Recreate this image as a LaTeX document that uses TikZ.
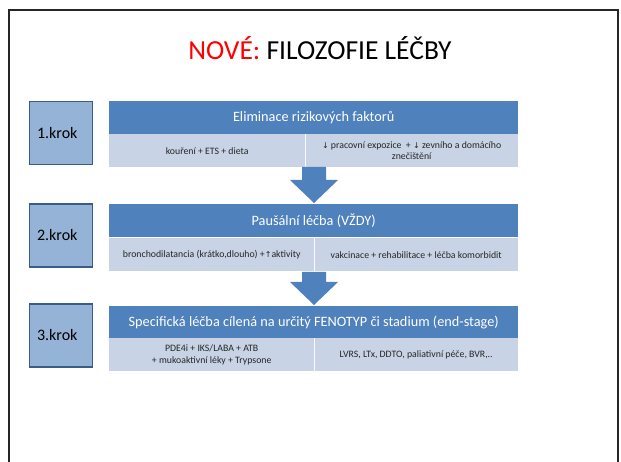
\documentclass[tikz,border=0pt]{standalone}
\usepackage{fontspec}
\setmainfont{Carlito}
\newfontfamily\symfont{DejaVu Sans}
\definecolor{hdrblue}{HTML}{4F81BD}
\definecolor{cellblue}{HTML}{C8D3E6}
\definecolor{stepfill}{HTML}{95B3D7}
\definecolor{stepedge}{HTML}{385D8A}
\definecolor{titlered}{HTML}{FF0000}
\newcommand{\dn}{{\symfont\fontsize{8}{9}\selectfont ↓}}
\newcommand{\up}{{\symfont\fontsize{8}{9}\selectfont ↑}}
\tikzset{
  stepbox/.style={draw=stepedge, line width=1.2pt, fill=stepfill, minimum width=63pt, minimum height=63pt, inner sep=0pt, text width=48pt, align=left, font=\fontsize{16}{18}\selectfont},
  hdr/.style={fill=hdrblue, minimum width=409pt, minimum height=33pt, inner sep=0pt, text=white, font=\fontsize{14.3}{16}\selectfont},
  cell/.style={fill=cellblue, minimum height=33pt, inner sep=0pt, align=center, font=\fontsize{9.8}{11.5}\selectfont, text=black!85},
  divider/.style={draw=white!92!cellblue, line width=1pt},
  downarrow/.style={fill=hdrblue, draw=none}
}
\begin{document}
\begin{tikzpicture}[x=1pt, y=-1pt]
\useasboundingbox (0,0) rectangle (621,462);
\fill[white] (0,0) rectangle (621,462);
% slide frame
\draw[black!85, line width=2.2pt] (9,470) -- (9,10) -- (618,10) -- (618,470);

% title
\node (title) at (320,48) {\fontsize{27.5}{30}\selectfont\textcolor{titlered}{NOVÉ:} FILOZOFIE LÉČBY};

% step labels
\node[stepbox] (k1) at (61,133) {1.krok};
\node[stepbox] (k2) at (61,235.5) {2.krok};
\node[stepbox] (k3) at (61,335.5) {3.krok};

% step 1
\node[hdr, anchor=north west] (h1) at (109,101) {Eliminace rizikových faktorů};
\node[cell, anchor=north west, minimum width=196pt] (c1a) at (109,134) {kouření + ETS + dieta};
\node[cell, anchor=north west, minimum width=213pt] (c1b) at (305,134) {\dn\ pracovní expozice \ + \dn\ zevního a domácího\\znečištění};
\draw[divider] (c1a.north east) -- (c1a.south east);

% step 2
\node[hdr, anchor=north west] (h2) at (109,204) {Paušální léčba (VŽDY)};
\node[cell, anchor=north west, minimum width=205pt] (c2a) at (109,238) {bronchodilatancia (krátko,dlouho) +\up aktivity};
\node[cell, anchor=north west, minimum width=204pt] (c2b) at (314,238) {vakcinace + rehabilitace + léčba komorbidit};
\draw[divider] (c2a.north east) -- (c2a.south east);

% step 3
\node[hdr, anchor=north west] (h3) at (109,306) {Specifická léčba cílená na určitý FENOTYP či stadium (end-stage)};
\node[cell, anchor=north west, minimum width=205pt] (c3a) at (109,338) {PDE4i + IKS/LABA + ATB\\+ mukoaktivní léky + Trypsone};
\node[cell, anchor=north west, minimum width=204pt] (c3b) at (314,338) {LVRS, LTx, DDTO, paliativní péče, BVR,..};
\draw[divider] (c3a.north east) -- (c3a.south east);

% block arrows between steps
\coordinate (a1b) at (314,203);
\fill[downarrow] (302,167) -- (326,167) -- (326,180) -- (338,180) -- (a1b) -- (290,180) -- (302,180) -- cycle;
\coordinate (a2b) at (314,305);
\fill[downarrow] (302,272) -- (326,272) -- (326,282) -- (338,282) -- (a2b) -- (290,282) -- (302,282) -- cycle;
\end{tikzpicture}
\end{document}
